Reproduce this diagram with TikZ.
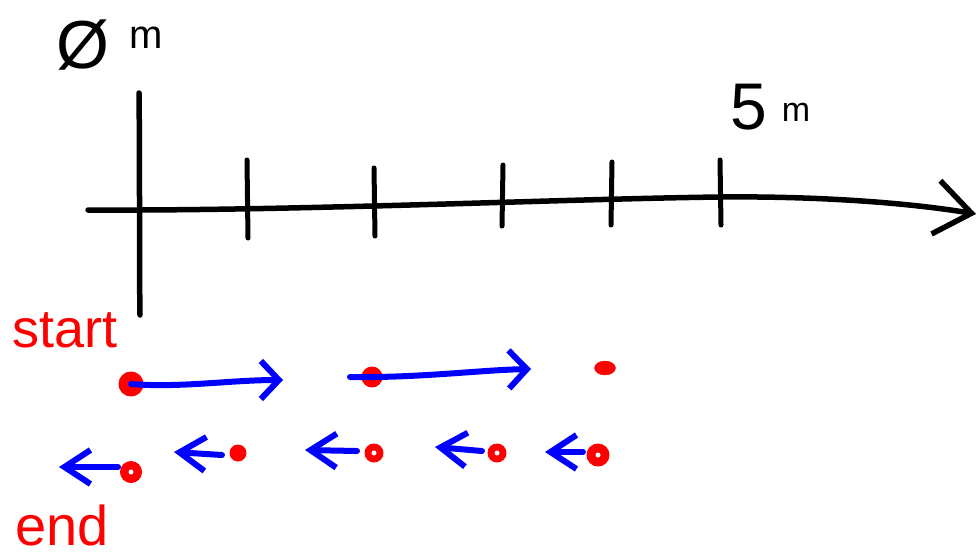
\documentclass[tikz,border=0pt]{standalone}
\usepackage{fontspec}
\setmainfont{Liberation Sans}
\usetikzlibrary{arrows.meta,shapes.geometric}
\begin{document}
\begin{tikzpicture}[x=1pt,y=-1pt,line cap=round,line join=round,
  axisline/.style={line width=5.5pt,black},
  tickmark/.style={line width=5pt,black},
  axishead/.style={-{Straight Barb[length=36pt,width=54pt,line width=5.5pt]}},
  reddot/.style={circle,fill=red,draw=red,line width=1pt,inner sep=0pt,minimum size=#1},
  motion/.style={line width=6pt,blue,-{Straight Barb[length=18pt,width=38pt,line width=6pt]}},
  backmotion/.style={line width=6pt,blue,-{Straight Barb[length=26pt,width=34pt,line width=6pt]}},
  hand/.style={inner sep=0pt,anchor=center}]
\useasboundingbox (0,0) rectangle (980,558);
% axes
\coordinate (vtop) at (139,93);
\coordinate (vbot) at (140,315);
\draw[axisline] (vtop) .. controls (140,180) and (139,250) .. (vbot);
\coordinate (hleft) at (88,210);
\coordinate (hmid) at (720,197);
\coordinate (hright) at (976,214);
\draw[axisline,axishead] (hleft) .. controls (300,211) and (560,199) .. (hmid) .. controls (820,196) and (910,203) .. (hright);
% ticks
\foreach \x/\a/\b/\c in {247/160/238/248, 374/168/236/375, 503/165/226/502, 612/162/225/611, 720/160/225/721}{
  \draw[tickmark] (\x,\a) -- (\c,\b);
}
% labels
\node[hand,font=\fontsize{68}{68}\selectfont] (zero) at (83,45) {Ø};
\node[hand,font=\fontsize{40}{40}\selectfont] (zerom) at (146,38) {m};
\node[hand,font=\fontsize{66}{66}\selectfont] (five) at (749,107) {5};
\node[hand,font=\fontsize{34}{34}\selectfont] (fivem) at (796,112) {m};
\node[hand,red,font=\fontsize{54}{54}\selectfont] (start) at (65,330) {start};
\node[hand,red,anchor=base,font=\fontsize{56}{56}\selectfont] (end) at (62,545) {end};
% red dots
\node[reddot=24pt] (d1) at (131,384) {};
\node[reddot=20pt] (d2) at (372,377) {};
\node[ellipse,fill=red,draw=red,inner sep=0pt,minimum width=21pt,minimum height=14pt] (d3) at (605,368) {};
\node[reddot=21pt] (e1) at (131,472) {};
\node[reddot=16pt] (e2) at (238,453) {};
\node[reddot=18pt] (e3) at (374,453) {};
\node[reddot=18pt] (e4) at (497,453) {};
\node[reddot=22pt] (e5) at (598,455) {};
\foreach \n in {e1,e3,e4,e5}{\fill[white] (\n) circle (2.5pt);}
% blue motion arrows
\coordinate (a1e) at (283,380);
\coordinate (a2s) at (350,377);
\coordinate (a2e) at (531,369);
\draw[motion] (d1.center) .. controls (180,388) and (230,380) .. (a1e);
\draw[motion] (a2s) .. controls (420,378) and (480,370) .. (a2e);
\coordinate (b1s) at (118,467); \coordinate (b1e) at (59,467);
\coordinate (b2s) at (222,455); \coordinate (b2e) at (174,452);
\coordinate (b3s) at (357,451); \coordinate (b3e) at (305,450);
\coordinate (b4s) at (482,451); \coordinate (b4e) at (435,447);
\coordinate (b5s) at (583,452); \coordinate (b5e) at (545,452);
\foreach \s/\e in {b1s/b1e,b2s/b2e,b3s/b3e,b4s/b4e,b5s/b5e}{
  \draw[backmotion] (\s) -- (\e);
}
\end{tikzpicture}
\end{document}
